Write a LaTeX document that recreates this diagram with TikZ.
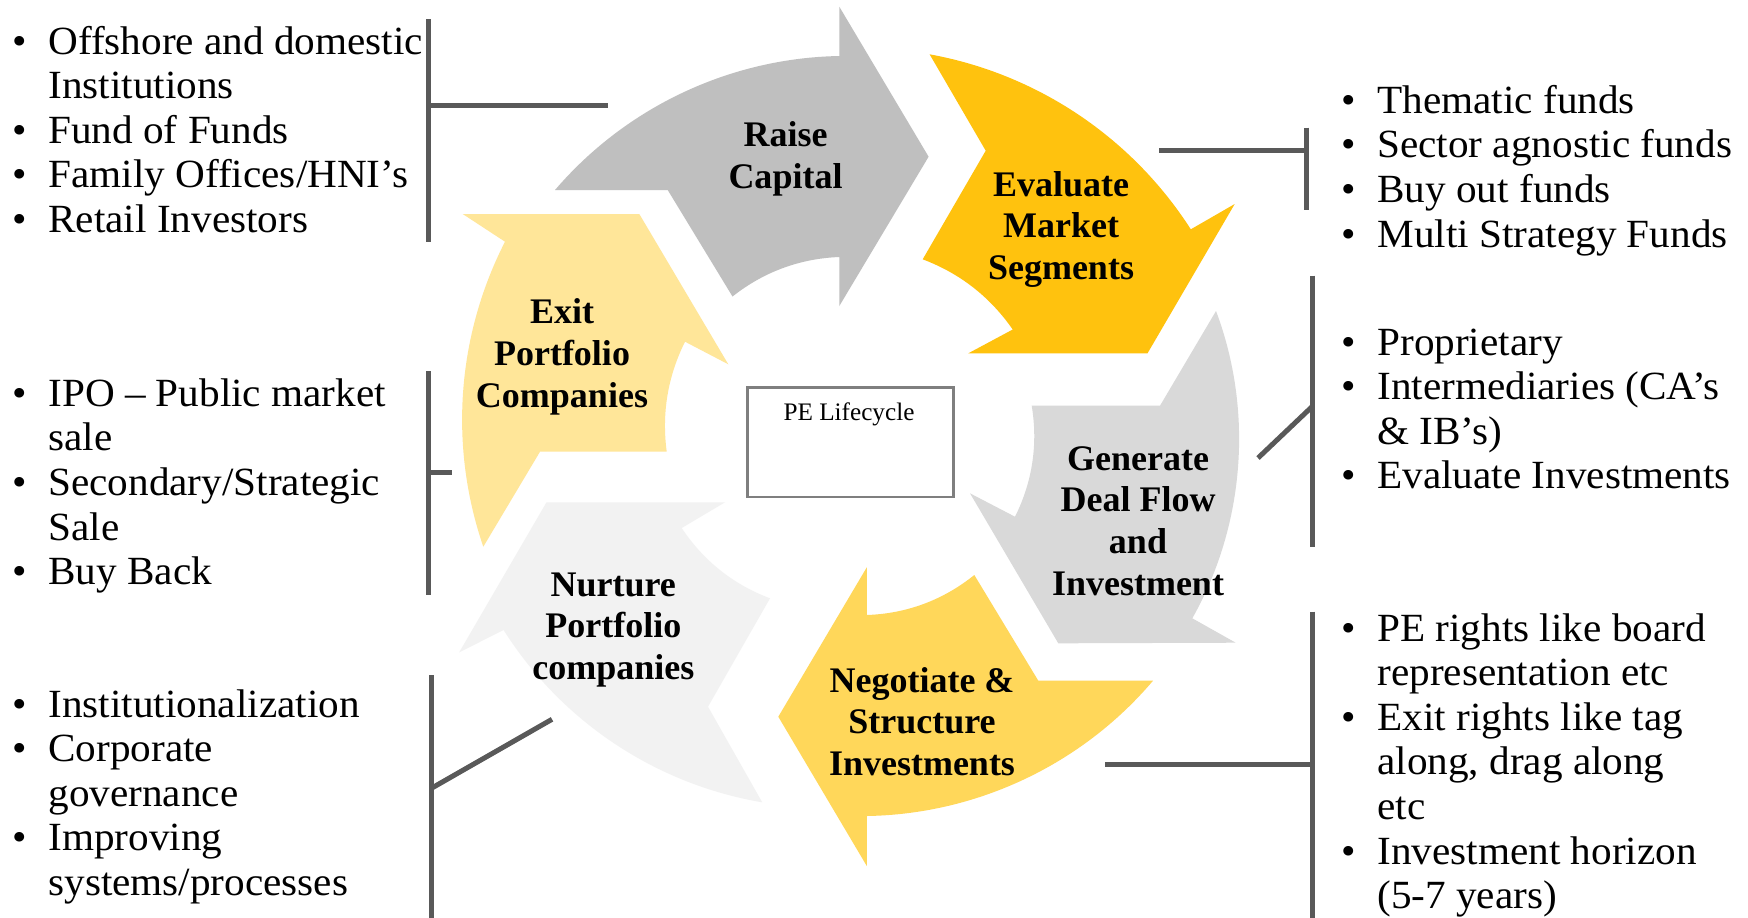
\documentclass[tikz,border=0pt]{standalone}
\usepackage{fontspec}
\setmainfont{Liberation Serif}
\newfontfamily\listfont{Liberation Serif}[FakeStretch=1.03]
\definecolor{raisegray}{HTML}{BFBFBF}
\definecolor{evalgold}{HTML}{FFC20E}
\definecolor{genergray}{HTML}{D9D9D9}
\definecolor{negyellow}{HTML}{FFD75A}
\definecolor{nurturegray}{HTML}{F2F2F2}
\definecolor{exityellow}{HTML}{FFE699}
\definecolor{bargray}{HTML}{595959}
\definecolor{boxgray}{HTML}{7F7F7F}
% bullet hanging to the left of a list line
\newcommand\bul{\llap{\makebox[0pt][c]{\textbullet}\hspace{14.2pt}}}
\newcommand\stagelines[1]{\begin{tabular}[t]{@{}c@{}}#1\end{tabular}}
\newcommand\listlines[1]{\begin{tabular}[t]{@{}l@{}}#1\end{tabular}}
\begin{document}
\begin{tikzpicture}[x=0.5pt,y=-0.5pt,
  arcband/.style={looseness=0.89},
  bracket/.style={draw=bargray,line width=2.5pt},
  stagelabel/.style={inner sep=0pt,anchor=base,font=\fontsize{18}{20.9}\selectfont\bfseries},
  bulletlist/.style={inner sep=0pt,anchor=base west,font=\listfont\fontsize{20}{22.3}\selectfont}]
\useasboundingbox (0,0) rectangle (1748,917);
\fill[white] (0,0) rectangle (1748,917);

% ---- the six curved stage arrows, clockwise from the top ----
\fill[raisegray] (839.3,6.7) -- (928.6,156.7) -- (839.3,306) -- (839.3,257)
  to[arcband,bend right=18.1] (732.5,296.5) -- (667.7,190) -- (555,190)
  to[arcband,bend left=24.2] (839.3,56) -- cycle;
\fill[evalgold] (929.6,54.3) to[arcband,bend left=23.5] (1190.8,229.3)
  -- (1234.7,204) -- (1147.5,353.3) -- (968.3,353.3) -- (1012.7,329.5)
  to[arcband,bend right=17.3] (922.7,259.3) -- (985.7,150.7) -- cycle;
\fill[genergray] (1216,311) to[arcband,bend left=25] (1192.3,618.3)
  -- (1235.7,642.7) -- (1058.3,643.3) -- (970,493.3) -- (1015,516.7)
  to[arcband,bend right=18] (1031.7,405.7) -- (1160,405.7) -- cycle;
\fill[negyellow] (778.3,716.7) -- (866.8,866) -- (866.8,816)
  to[arcband,bend right=24.4] (1153,680.7) -- (1038.3,680.7) -- (974.3,575)
  to[arcband,bend left=18.4] (866.8,615) -- (866.8,567.3) -- cycle;
\fill[nurturegray] (459.2,652.3) -- (546.5,502.3) -- (725,502.3) -- (681.7,528)
  to[arcband,bend right=18] (770,598.3) -- (708,706.7) -- (762.2,802.3)
  to[arcband,bend left=24] (503.6,630) -- cycle;
\fill[exityellow] (462.7,214) -- (639.3,214) -- (728.3,364.3) -- (685,341.7)
  to[arcband,bend right=17] (666.7,451.7) -- (540,451.7) -- (483.3,546.7)
  to[arcband,bend left=23] (505,241.7) -- cycle;

% ---- stage labels ----
\node[stagelabel] (raise) at (785.5,146.7) {\stagelines{Raise\\Capital}};
\node[stagelabel] (evaluate) at (1061,196) {\stagelines{Evaluate\\Market\\Segments}};
\node[stagelabel] (generate) at (1138,470) {\stagelines{Generate\\Deal Flow\\and\\Investment}};
\node[stagelabel] (negotiate) at (922,692) {\stagelines{Negotiate \&\\Structure\\Investments}};
\node[stagelabel] (nurture) at (613.3,596) {\stagelines{Nurture\\Portfolio\\companies}};
\node[stagelabel] (exit) at (562,323.5) {\stagelines{Exit\\Portfolio\\Companies}};

% ---- centre box ----
\node[draw=boxgray,line width=1.35pt,minimum width=102.8pt,minimum height=54.6pt,
  inner sep=0pt,anchor=north west] (pebox) at (746.3,386.3) {};
\node[inner sep=0pt,anchor=base,font=\fontsize{12.6}{14}\selectfont] (petitle) at (849,420) {PE Lifecycle};

% ---- bullet lists ----
\node[bulletlist] (capitalsrc) at (48,54) {\listlines{\bul Offshore and domestic\\Institutions\\\bul Fund of Funds\\\bul Family Offices/HNI’s\\\bul Retail Investors}};
\node[bulletlist] (exitroutes) at (48,406.2) {\listlines{\bul IPO – Public market\\sale\\\bul Secondary/Strategic\\Sale\\\bul Buy Back}};
\node[bulletlist] (nurturing) at (48,717) {\listlines{\bul Institutionalization\\\bul Corporate\\governance\\\bul Improving\\systems/processes}};
\node[bulletlist] (fundtypes) at (1377,113.3) {\listlines{\bul Thematic funds\\\bul Sector agnostic funds\\\bul Buy out funds\\\bul Multi Strategy Funds}};
\node[bulletlist] (dealsrc) at (1377,355) {\listlines{\bul Proprietary\\\bul Intermediaries (CA’s\\\& IB’s)\\\bul Evaluate Investments}};
\node[bulletlist] (terms) at (1377,641) {\listlines{\bul PE rights like board\\representation etc\\\bul Exit rights like tag\\along, drag along\\etc\\\bul Investment horizon\\(5-7 years)}};

% ---- bracket connectors ----
\coordinate (b1top) at (428,19.3);   \coordinate (b1bot) at (428,241.7);
\coordinate (b1mid) at (428,105.5);  \coordinate (b1end) at (607.5,105.5);
\coordinate (b2top) at (428,371);    \coordinate (b2bot) at (428,594.5);
\coordinate (b2mid) at (428,472);    \coordinate (b2end) at (451.7,472);
\coordinate (b3top) at (431,675);    \coordinate (b3bot) at (431,920);
\coordinate (b3mid) at (431,788.5);  \coordinate (b3end) at (552,719.3);
\coordinate (b4top) at (1306,127.5); \coordinate (b4bot) at (1306,210);
\coordinate (b4mid) at (1306,150.6); \coordinate (b4end) at (1159,150.6);
\coordinate (b5top) at (1312,275.5); \coordinate (b5bot) at (1312,546.5);
\coordinate (b5mid) at (1312,406.7); \coordinate (b5end) at (1258,458);
\coordinate (b6top) at (1312.5,611.7); \coordinate (b6bot) at (1312.5,920);
\coordinate (b6mid) at (1312.5,764.5); \coordinate (b6end) at (1105,764.5);
\foreach \k in {1,...,6}{
  \draw[bracket] (b\k top) -- (b\k bot);
  \draw[bracket] (b\k mid) -- (b\k end);
}
\end{tikzpicture}
\end{document}
